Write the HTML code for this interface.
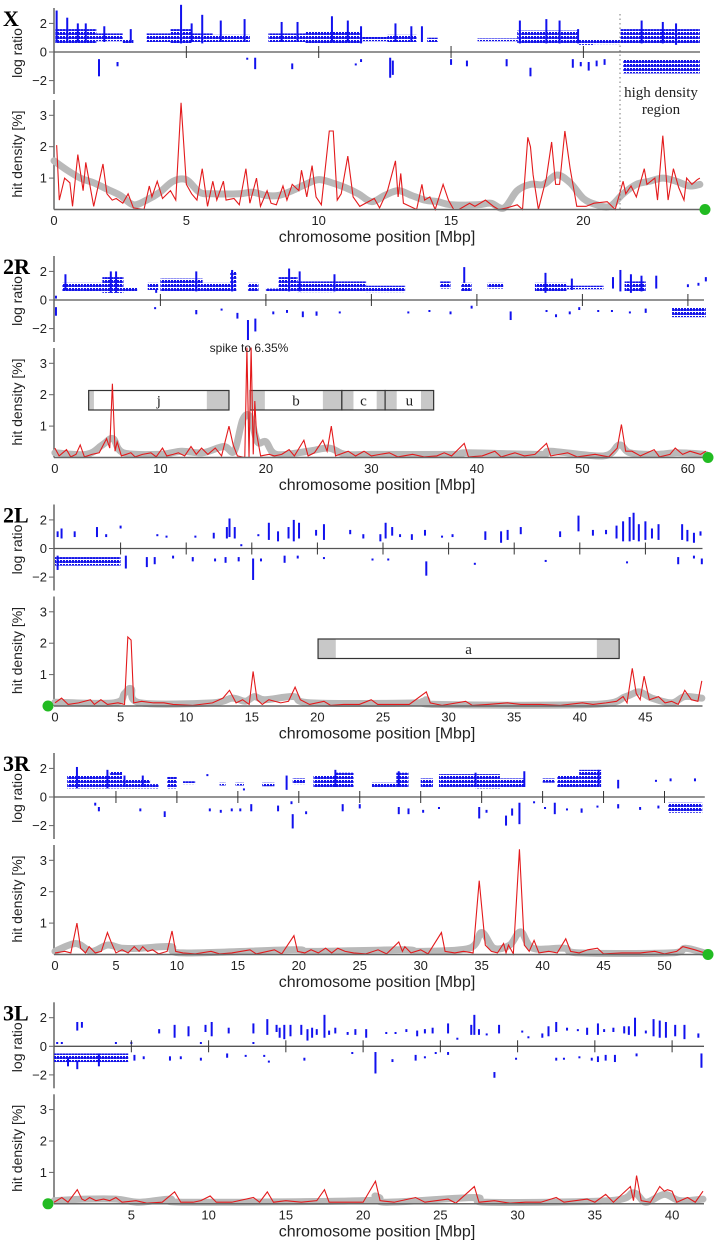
<!DOCTYPE html>
<html><head><meta charset="utf-8"><style>
html,body{margin:0;padding:0;background:#fff;}
svg{display:block;font-family:"Liberation Sans",sans-serif;}
</style></head><body>
<svg id="chart" width="714" height="1241" viewBox="0 0 714 1241" xmlns="http://www.w3.org/2000/svg">
<defs>
<pattern id="stripes" width="3" height="4" patternUnits="userSpaceOnUse">
<rect x="0" y="0" width="2" height="3" fill="#1414e8"/>
<rect x="2" y="1" width="1" height="2" fill="#4a4af0"/>
</pattern>
</defs>
</svg>
<script>
// ---------- DATA ----------
const panelNames = ["X","2R","2L","3R","3L"];
const xTicks = [0,5,10,15,20];
const r2Ticks = [0,10,20,30,40,50,60];
const l2Ticks = [0,5,10,15,20,25,30,35,40,45];
const r3Ticks = [0,5,10,15,20,25,30,35,40,45,50];
const l3Ticks = [5,10,15,20,25,30,35,40];
const logTicks = [2,0,-2];
const hitTicks = [3,2,1];

const xHitPos = [0.1,0.2,0.4,0.6,0.7,0.9,1.1,1.2,1.35,1.5,1.85,2.0,2.2,2.35,2.6,2.8,3.0,3.4,3.6,3.7,3.9,4.1,4.4,4.6,4.8,5.0,5.2,5.4,5.6,5.8,6.0,6.15,6.4,6.5,6.8,7.0,7.25,7.4,7.65,7.8,8.05,8.2,8.4,8.65,8.8,9.0,9.25,9.35,9.55,9.75,9.9,10.1,10.4,10.55,10.7,10.85,11.1,11.3,11.55,12.1,12.3,12.6,12.9,13.0,13.1,13.2,13.7,13.9,14.0,14.2,14.4,14.7,14.9,15.1,15.3,15.7,15.9,16.3,16.6,16.8,17.1,17.5,17.7,17.9,18.0,18.1,18.3,18.6,18.8,18.95,19.1,19.3,19.5,19.75,20.1,20.4,20.9,21.2,21.5,21.6,21.8,22.0,22.3,22.4,22.7,22.8,23.0,23.2,23.4,23.6,23.8,23.9,24.1,24.3,24.4];
const xHitVal = [2.05,0.3,1.0,0.85,0.1,1.75,0.6,1.5,0.8,0.1,1.45,0.5,0.3,0.35,0.2,0.5,0.05,0.0,0.75,0.4,0.9,0.35,0.6,0.3,3.4,0.8,0.5,0.3,1.3,0.1,0.9,0.3,0.9,0.3,0.35,0.15,1.3,0.2,1.0,0.1,0.6,0.2,0.15,0.75,0.3,0.8,0.6,1.25,0.4,1.4,0.4,0.15,2.5,2.5,0.3,0.5,1.7,0.4,0.1,0.35,0.05,0.6,1.55,0.4,1.15,0.2,0.0,0.8,0.3,0.4,0.0,0.8,0.3,0.0,0.0,0.2,0.1,0.3,0.1,0.0,0.05,0.15,0.0,2.3,2.0,1.1,0.0,1.0,2.15,0.8,0.8,2.5,1.3,0.1,0.1,0.2,0.25,0.0,0.9,0.5,0.75,0.4,1.3,0.8,1.0,0.3,2.35,0.3,1.3,0.7,0.3,1.0,0.8,0.95,1.0];
const xSmoothPos = [0,0.5,1,1.5,2,2.5,3,3.5,4,4.5,5,5.5,6,7,7.5,8,8.5,9,9.5,10,10.5,11,11.5,12,12.5,13,13.5,14,14.5,15,16,16.5,17,17.5,18,18.5,19,19.5,20,20.5,21,21.5,22,22.5,23,23.5,24,24.4];
const xSmoothVal = [1.55,1.25,1.0,0.85,0.65,0.45,0.15,0.3,0.55,0.9,0.95,0.55,0.5,0.5,0.55,0.45,0.45,0.6,0.8,0.95,0.85,0.7,0.5,0.25,0.45,0.6,0.45,0.3,0.25,0.15,0.15,0.2,0.05,0.6,0.8,0.8,1.1,0.85,0.35,0.15,0.1,0.5,0.8,0.9,1.0,0.9,0.75,0.8];
const xBlocks = [[0.05,1.6,0.6,1.6],[1.6,2.6,0.75,1.3],[2.6,3.0,0.6,0.9],[3.5,4.4,0.7,1.3],[4.4,5.2,0.6,1.6],[5.2,6.0,0.7,1.3],[6.0,7.4,0.7,1.2],[8.1,9.5,0.7,1.3],[9.5,11.6,0.6,1.4],[11.6,12.6,0.75,1.05],[12.6,13.7,0.7,1.2],[14.1,14.5,0.7,1.0],[16.0,17.5,0.75,0.95],[17.5,19.8,0.6,1.5],[19.8,20.4,0.5,0.9],[20.4,21.4,0.55,0.85],[21.4,24.4,0.6,1.6],[21.5,24.4,-1.5,-0.5]];
const xBars = [[0.1,0.7,2.9],[0.5,0.7,2.4],[0.9,0.7,2.0],[1.2,0.7,2.0],[1.9,0.7,1.8],[2.9,0.7,1.6],[4.8,0.6,3.3],[5.2,0.7,2.0],[5.6,0.6,2.6],[6.3,0.7,2.2],[7.2,0.7,2.3],[8.6,0.7,2.1],[9.2,0.7,2.1],[10.5,0.7,2.5],[11.1,0.7,2.2],[11.6,0.6,1.8],[12.9,0.7,2.0],[13.5,0.7,1.8],[13.9,0.7,1.8],[17.6,0.6,2.2],[18.6,0.6,2.3],[19.1,0.6,2.2],[19.8,0.6,1.6],[22.2,0.6,2.2],[23.0,0.6,2.1],[23.5,0.5,2.0],[1.7,-0.5,-1.7],[2.4,-0.7,-1.0],[7.3,-0.4,-0.5],[7.6,-0.4,-1.2],[9.0,-0.8,-1.2],[11.4,-0.8,-0.9],[11.6,-0.5,-0.7],[12.7,-0.4,-1.8],[12.8,-0.6,-1.6],[15.0,-0.5,-0.9],[15.6,-0.6,-1.0],[17.1,-0.5,-1.0],[18.0,-1.1,-1.7],[19.6,-0.5,-1.1],[19.9,-0.7,-1.0],[20.2,-0.7,-1.3],[20.5,-0.6,-1.0],[20.8,-0.5,-0.9]];

const hit2R = [[0,0.3],[0.4,0.05],[1.1,0.25],[1.5,0.02],[2.0,0.1],[2.4,0.4],[2.8,0.02],[3.5,0.1],[4.2,0.15],[4.9,0.6],[5.2,0.3],[5.45,2.35],[5.7,0.2],[5.9,0.5],[6.3,0.05],[7.2,0.15],[7.6,0.02],[8.3,0.1],[9.1,0.15],[9.6,0.02],[10.2,0.3],[10.6,0.05],[11.2,0.1],[11.7,0.15],[12.3,0.05],[12.9,0.35],[13.4,0.1],[13.9,0.3],[14.5,0.1],[15.2,0.3],[15.8,0.05],[16.5,1.0],[16.9,0.4],[17.3,0.05],[18.0,0.0],[18.2,3.5],[18.4,0.0],[18.6,3.5],[18.8,0.1],[18.95,1.8],[19.1,0.8],[19.5,0.05],[20.3,0.1],[20.8,0.05],[21.5,0.1],[22.2,0.25],[22.7,0.05],[23.6,0.55],[24.0,0.05],[24.6,0.15],[25.4,0.55],[25.8,0.2],[26.2,1.0],[26.6,0.05],[27.8,0.2],[28.5,0.05],[29.3,0.2],[30.0,0.05],[30.8,0.1],[31.7,0.15],[32.5,0.02],[33.9,0.1],[35,0.02],[36.2,0.05],[36.9,0.15],[37.6,0.05],[38.8,0.45],[39.2,0.02],[40.5,0.05],[41.7,0.2],[42.3,0.02],[43.6,0.15],[44.5,0.05],[45.5,0.1],[46.6,0.45],[47.0,0.05],[47.8,0.1],[48.6,0.15],[49.5,0.02],[51.2,0.1],[52.5,0.02],[53.3,0.3],[53.7,1.05],[54.1,0.2],[54.7,0.2],[55.5,0.05],[56.8,0.25],[57.3,0.02],[58.3,0.1],[58.8,0.3],[59.5,0.1],[60.2,0.2],[60.7,0.15],[61.2,0.1],[61.7,0.2]];
const smooth2R = [[0,0.15],[3,0.1],[4.5,0.4],[5.5,0.6],[6.5,0.15],[10,0.1],[12,0.2],[14,0.15],[16,0.35],[17,0.2],[17.8,1.2],[18.5,1.3],[19.2,0.5],[20,0.5],[21,0.1],[24,0.2],[26,0.3],[27.5,0.1],[30,0.1],[38,0.1],[39,0.15],[46,0.1],[47,0.2],[52,0.05],[53.5,0.4],[54.5,0.15],[57,0.1],[59,0.15],[61.7,0.1]];
const blocks2R = [[0.7,2.6,0.6,1.2],[2.6,4.5,0.6,1.2],[4.5,6.5,0.5,1.6],[6.5,7.8,0.6,0.9],[8.8,9.8,0.7,1.2],[10,12,0.6,1.5],[12,14,0.6,1.5],[14,16.6,0.6,1.2],[16.6,17.2,0.6,2.0],[18.3,19.3,0.6,1.2],[20,21.2,0.6,0.8],[21.2,23.0,0.6,1.6],[23,26.5,0.55,1.3],[26.5,29.5,0.6,1.3],[29.5,33.2,0.55,1.0],[36.5,37.5,0.8,1.3],[38.5,39.5,0.6,1.2],[41,42.5,0.8,1.2],[45.5,48.5,0.6,1.2],[48.5,52,0.75,1.0],[54,56,0.6,1.3],[58.5,61.7,-1.2,-0.5]];
const bars2R = [[1.0,0.7,1.8],[5.3,0.5,2.0],[5.8,0.5,2.0],[13.4,0.6,2.0],[16.8,0.6,2.1],[22.2,0.6,2.2],[23.2,0.6,2.0],[26.5,0.6,1.8],[38.8,1.2,2.3],[46.5,0.5,1.9],[49.0,0.7,1.5],[52.9,0.8,1.6],[53.6,0.6,2.1],[54.6,0.5,1.8],[55.6,0.6,1.7],[57.0,0.8,1.7],[60.0,0.9,1.1],[61.0,1.0,1.2],[61.7,1.3,1.6],[9.6,0.5,0.7],[0.1,0.1,0.3],[0.1,-0.5,-1.1],[9.5,-0.5,-0.6],[13.4,-0.7,-1.0],[15.8,-0.6,-0.7],[17.3,-0.9,-1.3],[18.3,-1.4,-2.8],[19.0,-1.3,-2.2],[20.7,-0.8,-1.0],[22,-0.7,-0.9],[23.5,-0.8,-1.2],[24.8,-0.8,-1.1],[27,-0.8,-0.9],[33.5,-0.8,-0.9],[35.5,-0.7,-0.8],[37.5,-0.8,-1.0],[39.5,-0.4,-0.6],[43.2,-0.8,-1.4],[46.6,-0.7,-0.8],[47.5,-1.0,-1.2],[48.8,-0.8,-1.0],[49.7,-0.5,-0.7],[51.5,-0.7,-0.8],[52.8,-0.7,-0.8],[54.5,-0.8,-0.9],[56,-0.6,-0.9]];

const hit2L = [[0,0.1],[0.5,0.25],[1,0.05],[1.8,0.1],[2.7,0.2],[3.0,0.05],[3.5,0.2],[4.0,0.05],[4.8,0.1],[5.3,0.05],[5.55,2.2],[5.8,2.1],[6.0,0.1],[6.6,0.15],[7.5,0.1],[8.3,0.1],[9,0.05],[10.5,0.02],[12,0.1],[12.8,0.25],[13.3,0.5],[13.8,0.1],[14.3,0.2],[14.8,0.05],[15.1,1.1],[15.4,0.2],[15.8,0.05],[16.3,0.2],[17.2,0.1],[17.8,0.15],[18.3,0.6],[18.7,0.2],[19.4,0.05],[20.5,0.15],[21,0.02],[22,0.05],[23.2,0.05],[24.1,0.2],[24.6,0.05],[26,0.05],[27,0.05],[28.3,0.45],[28.6,0.1],[29.5,0.02],[31.3,0.15],[31.8,0.02],[33,0.05],[34.5,0.1],[35.5,0.05],[37,0.05],[38.5,0.02],[40.2,0.1],[41,0.05],[42,0.1],[42.8,0.15],[43.3,0.3],[43.6,0.1],[44.0,1.2],[44.3,0.4],[44.6,0.2],[44.9,0.95],[45.3,0.2],[46,0.3],[46.5,0.1],[47,0.15],[47.5,0.05],[48,0.5],[48.5,0.2],[49.0,0.15],[49.3,0.8]];
const smooth2L = [[0,0.12],[4.5,0.1],[5.3,0.4],[5.8,0.55],[6.5,0.1],[12,0.1],[13.5,0.25],[14.5,0.15],[15.2,0.3],[16,0.2],[18.2,0.3],[19.5,0.1],[27.5,0.1],[28.3,0.2],[29,0.05],[41,0.05],[43.5,0.3],[44.5,0.45],[45.5,0.25],[47,0.1],[48,0.3],[49.3,0.25]];
const blocks2L = [[0,5.0,-1.2,-0.6]];
const bars2L = [[0.2,0.8,1.2],[0.5,0.7,1.4],[1.5,0.8,1.2],[3.2,0.8,1.5],[3.9,0.8,1.0],[5.0,1.4,1.6],[7.8,0.9,1.0],[8.5,0.8,0.9],[10.7,0.8,0.9],[12.1,0.7,1.1],[13.1,0.7,1.5],[13.3,0.8,2.1],[13.7,0.7,1.5],[14.2,0.2,0.3],[15.5,0.9,1.0],[16.3,0.6,1.8],[17.0,0.5,1.2],[17.8,0.7,1.5],[18.2,0.5,2.0],[18.6,0.7,1.8],[19.9,0.9,1.3],[20.5,0.6,1.7],[22.5,1.0,1.3],[23.5,0.7,1.0],[24.8,0.5,1.0],[25.2,0.7,1.8],[25.7,0.9,1.5],[26.3,0.8,1.0],[27.2,0.6,1.0],[28.2,0.9,1.3],[29.5,0.8,0.9],[30.3,0.8,1.0],[32.8,0.6,1.2],[34.0,0.4,1.2],[34.5,0.6,1.3],[35.5,1.0,1.5],[38.5,0.8,1.2],[39.9,1.2,2.3],[41.0,0.9,1.3],[42.0,1.0,1.3],[42.8,0.7,1.6],[43.3,0.5,1.9],[43.8,0.5,2.2],[44.1,0.6,2.5],[44.5,0.5,1.7],[45.0,0.6,1.9],[45.5,0.7,1.4],[46.0,0.6,1.7],[47.8,0.6,1.7],[48.2,0.5,1.3],[48.7,0.4,1.1],[49.2,0.9,1.2],[0.2,-0.5,-1.5],[5.4,-0.5,-1.4],[7,-0.6,-1.3],[7.6,-0.6,-1.1],[9.0,-0.5,-0.7],[10.5,-0.6,-0.9],[12.2,-0.7,-0.9],[13.0,-0.6,-1.0],[14.0,-0.6,-0.9],[15.1,-0.7,-2.2],[15.7,-0.7,-0.9],[17.5,-0.5,-1.0],[18.5,-0.5,-0.7],[20.5,-0.6,-0.7],[24.2,-0.7,-0.8],[25.4,-0.7,-0.8],[28.3,-0.9,-1.9],[32.0,-1.0,-1.1],[37.4,-0.8,-0.9],[43.6,-0.9,-1.0],[47.5,-0.6,-1.1],[48.7,-0.5,-0.7],[49.3,-0.7,-1.1]];

const hit3R = [[0,0.05],[0.8,0.1],[1.3,0.05],[1.8,1.0],[2.1,0.2],[2.5,0.05],[2.8,0.25],[3.3,0.05],[3.8,0.1],[4.3,0.7],[4.6,0.4],[5.0,0.05],[5.5,0.15],[6.0,0.05],[6.5,0.25],[6.9,0.1],[7.2,0.25],[7.6,0.1],[8.0,0.15],[8.5,0.02],[9.2,0.1],[9.6,0.75],[9.9,0.1],[10.5,0.05],[11.5,0.02],[12.8,0.1],[13.5,0.02],[14.5,0.05],[16,0.15],[16.5,0.02],[18,0.15],[18.6,0.02],[19.6,0.6],[19.9,0.1],[20.5,0.05],[21,0.15],[21.6,0.05],[22.2,0.2],[22.7,0.05],[23.2,0.2],[23.8,0.1],[24.5,0.05],[25.5,0.02],[26.5,0.15],[27.2,0.02],[28.2,0.4],[28.5,0.1],[28.7,0.25],[29.2,0.05],[30,0.15],[30.6,0.02],[31.7,0.7],[32,0.1],[32.8,0.05],[33.5,0.1],[34.3,0.05],[34.8,2.35],[35.3,0.3],[35.8,0.1],[36.3,0.05],[36.8,0.35],[37.0,0.05],[37.2,0.3],[37.6,0.02],[38.1,3.35],[38.5,0.3],[38.9,0.1],[39.3,0.45],[39.7,0.05],[40.5,0.1],[41.2,0.05],[41.9,0.5],[42.3,0.1],[43,0.05],[43.7,0.15],[44.5,0.2],[45,0.02],[46.5,0.05],[48,0.05],[49.2,0.1],[50,0.02],[51,0.1],[51.5,0.25],[52,0.2],[52.5,0.15],[53.3,0.05]];
const smooth3R = [[0,0.1],[1.7,0.35],[3,0.1],[4.3,0.3],[5.5,0.2],[7,0.2],[9.5,0.25],[10.5,0.05],[19.5,0.15],[21,0.1],[28.5,0.15],[30,0.1],[34,0.2],[35,0.7],[36,0.2],[37.3,0.3],[38.2,0.72],[39.2,0.2],[41.8,0.2],[43,0.05],[50.5,0.05],[51.7,0.2],[53.3,0.05]];
const blocks3R = [[1.0,4.6,0.6,1.5],[4.5,5.5,0.6,1.8],[5.5,7.8,0.6,1.2],[7.8,8.5,0.6,0.9],[9.2,10.0,0.6,1.4],[10.5,11.5,0.9,1.1],[13.5,14.0,0.8,1.0],[14.8,15.5,0.8,1.0],[17.0,18.0,0.75,1.0],[19.5,20.5,0.9,1.3],[21.2,23.0,0.7,1.5],[23,24.5,0.7,1.7],[26.0,28.0,0.7,1.0],[28.0,29.0,0.7,1.7],[30.0,31.0,0.7,1.3],[31.5,34.5,0.7,1.6],[34.5,36.5,0.6,1.6],[36.5,38.5,0.7,1.3],[40,41,1.0,1.3],[41.2,43.0,0.7,1.5],[43,44.8,0.7,1.9],[50.3,53.1,-1.1,-0.4]];
const bars3R = [[1.8,0.6,2.1],[4.3,0.6,1.9],[5.7,0.7,1.5],[7.2,0.7,1.5],[19.0,0.5,1.5],[23.0,0.7,1.9],[28.2,0.7,1.8],[34.5,0.7,1.7],[38.5,0.7,1.8],[44.6,0.8,1.9],[46.2,0.6,1.2],[49.3,1.1,1.2],[50.5,1.1,1.3],[52.5,1.1,1.3],[15.5,0.5,0.6],[12.5,1.5,1.6],[3.3,-0.4,-0.6],[3.6,-0.7,-1.0],[7.0,-0.8,-1.0],[9.0,-1.0,-1.4],[12.7,-0.8,-1.0],[13.6,-0.9,-1.1],[14.5,-0.8,-1.0],[15.2,-0.8,-1.0],[16.1,-0.5,-1.0],[18.3,-0.6,-1.0],[19.5,-1.2,-2.2],[19.4,-0.3,-0.5],[20.6,-1.0,-1.2],[23.6,-0.5,-1.0],[25.0,-0.5,-0.8],[28.2,-0.7,-1.2],[29.0,-0.8,-1.2],[30.2,-0.9,-1.1],[31.5,-0.7,-0.8],[34.8,-0.7,-1.5],[35.4,-0.9,-1.1],[37.0,-1.3,-2.0],[37.5,-0.8,-1.3],[38.1,-0.4,-1.9],[39.3,-0.3,-0.4],[40.2,-0.7,-0.8],[41.0,-0.4,-1.2],[42.0,-0.8,-0.9],[43.2,-0.8,-1.1],[44.5,-0.6,-0.7],[46.2,-0.5,-0.8],[48.0,-0.7,-0.9],[49.5,-0.6,-0.8]];

const hit3L = [[0,0.05],[0.5,0.2],[0.9,0.05],[1.5,0.45],[1.8,0.15],[2,0.1],[2.3,0.2],[2.7,0.1],[3.2,0.15],[3.6,0.1],[4,0.2],[4.4,0.05],[5.3,0.1],[6,0.02],[7,0.05],[7.8,0.38],[8.2,0.05],[9,0.05],[9.5,0.1],[10.1,0.25],[10.5,0.05],[11.5,0.05],[12.9,0.2],[13.3,0.05],[13.8,0.38],[14.2,0.05],[15,0.1],[16,0.05],[17,0.1],[17.5,0.45],[17.8,0.05],[19,0.05],[20,0.05],[20.8,0.72],[21.1,0.1],[22,0.05],[23.4,0.2],[24,0.05],[25.5,0.15],[26,0.02],[27.2,0.55],[27.5,0.05],[28.5,0.1],[29.5,0.02],[30.5,0.05],[31.5,0.05],[32.5,0.2],[33,0.05],[34.5,0.15],[35,0.05],[35.7,0.3],[36.2,0.05],[37.3,0.55],[37.5,0.1],[37.7,0.9],[38,0.1],[38.6,0.05],[39.2,0.55],[39.5,0.4],[39.7,0.45],[40,0.4],[40.3,0.05],[41,0.2],[41.5,0.05],[42,0.4]];
const smooth3L = [[0,0.1],[2,0.15],[4,0.15],[5.5,0.05],[7.5,0.15],[8.5,0.05],[20,0.1],[20.8,0.25],[21.5,0.05],[27.2,0.2],[28,0.05],[36,0.1],[37.5,0.35],[38.3,0.05],[39.5,0.3],[40.5,0.1],[42,0.15]];
const blocks3L = [[0,4.8,-1.1,-0.5]];
const bars3L = [[0.2,0.2,0.3],[0.5,0.2,0.3],[1.5,1.1,1.7],[1.8,1.3,1.7],[4.0,0.2,0.3],[5.0,0.2,0.3],[6.8,0.9,1.2],[7.8,0.6,1.5],[8.7,0.7,1.4],[9.5,0.2,0.3],[9.8,1.0,1.5],[10.2,0.7,1.7],[11.3,0.9,1.3],[12.9,0.2,0.3],[12.9,0.9,1.6],[13.8,0.8,1.9],[14.4,1.0,1.5],[14.6,0.6,1.3],[14.9,0.5,1.5],[15.3,0.7,1.5],[16,0.8,1.5],[16.4,0.4,1.2],[16.7,0.6,1.3],[17.0,0.8,1.2],[17.5,0.6,2.2],[17.8,0.8,1.1],[18.2,0.9,1.3],[19.0,0.8,1.0],[19.5,0.8,1.2],[20.2,0.6,1.2],[21.5,0.9,1.0],[22.1,0.9,1.0],[22.8,1.0,1.2],[23.5,0.7,1.1],[24.0,0.9,1.2],[24.5,0.9,1.3],[25.5,0.9,1.6],[26.1,0.5,0.6],[27.0,0.8,1.5],[27.2,0.8,2.2],[27.5,0.8,1.2],[28.0,0.8,0.9],[28.8,0.9,1.5],[30.3,1.0,1.1],[30.7,0.6,0.7],[31.6,0.6,0.9],[32.0,0.7,1.4],[32.5,1.0,1.7],[33.2,1.1,1.3],[33.9,1.1,1.2],[34.5,0.8,1.3],[35.2,0.8,1.6],[35.6,1.0,1.2],[36.2,1.0,1.3],[36.9,0.9,1.4],[37.2,0.8,1.4],[37.6,0.7,2.0],[38.3,0.9,1.1],[38.8,0.7,1.9],[39.2,0.6,1.8],[39.6,0.6,1.7],[40.2,0.7,1.5],[40.8,0.5,1.5],[41.7,0.6,0.9],[0.9,-0.8,-1.4],[2.9,-0.5,-1.4],[1.5,-1.0,-1.6],[5.2,-0.6,-1.0],[5.8,-0.7,-0.9],[7.5,-0.7,-1.0],[8.2,-0.7,-0.9],[9.5,-0.8,-1.0],[11.2,-0.5,-0.8],[12.4,-0.6,-0.7],[13.6,-0.6,-0.7],[13.9,-1.0,-1.1],[16.2,-0.8,-1.0],[19.3,-0.4,-0.5],[20.8,-0.4,-1.9],[21.9,-0.9,-1.1],[23.4,-0.6,-1.0],[24.0,-0.7,-0.8],[24.7,-0.4,-0.5],[25.5,-0.4,-0.6],[28.5,-1.8,-2.2],[29.9,-0.8,-0.9],[32.5,-0.8,-1.0],[33.0,-0.8,-0.9],[34.0,-0.7,-0.8],[34.8,-0.8,-1.0],[35.2,-0.7,-1.1],[35.7,-0.6,-1.0],[36.3,-0.6,-1.1],[37.7,-0.5,-0.7],[41.9,-0.5,-1.5]];

// inversion boxes: [label, start, end, grayLeftEnd, grayRightStart]
const boxes2R = [["j",3.2,16.5,3.7,14.4],["b",18.5,27.2,19.9,25.4],["c",27.2,31.3,28.3,30.5],["u",31.3,35.9,32.4,34.7]];
const boxes2L = [["a",20.05,43.0,21.4,41.3]];

// ---------- RENDER ----------
const NS = "http://www.w3.org/2000/svg";
const svg = document.getElementById("chart");
function mk(tag, attrs, parent){
  const el = document.createElementNS(NS, tag);
  for (const k in attrs) el.setAttribute(k, attrs[k]);
  (parent||svg).appendChild(el);
  return el;
}
const offsets = [0,248,496.5,745,994.3];
const xStart = [54,54.9,55,55,54.1];
const pxPer = [26.47,10.55,13.12,12.19,15.45];
const axisEnd = [700,704,702.5,704.8,704];
const dotX = [705,708,48,708,48];

const panelData = [
  {ticks:xTicks, hit:xHitPos.map((p,i)=>[p,xHitVal[i]]), smooth:xSmoothPos.map((p,i)=>[p,xSmoothVal[i]]), blocks:xBlocks, bars:xBars, boxes:[]},
  {ticks:r2Ticks, hit:hit2R, smooth:smooth2R, blocks:blocks2R, bars:bars2R, boxes:boxes2R},
  {ticks:l2Ticks, hit:hit2L, smooth:smooth2L, blocks:blocks2L, bars:bars2L, boxes:boxes2L},
  {ticks:r3Ticks, hit:hit3R, smooth:smooth3R, blocks:blocks3R, bars:bars3R, boxes:[]},
  {ticks:l3Ticks, hit:hit3L, smooth:smooth3L, blocks:blocks3L, bars:bars3L, boxes:[]}
];

function smoothPath(pts){
  let d = "M" + pts[0][0] + "," + pts[0][1];
  for (let i=0;i<pts.length-1;i++){
    const p0 = pts[Math.max(0,i-1)], p1 = pts[i], p2 = pts[i+1], p3 = pts[Math.min(pts.length-1,i+2)];
    const c1x = p1[0]+(p2[0]-p0[0])/6, c1y = p1[1]+(p2[1]-p0[1])/6;
    const c2x = p2[0]-(p3[0]-p1[0])/6, c2y = p2[1]-(p3[1]-p1[1])/6;
    d += " C"+c1x+","+c1y+" "+c2x+","+c2y+" "+p2[0]+","+p2[1];
  }
  return d;
}

panelData.forEach((pd, k) => {
  const off = offsets[k];
  const X = v => xStart[k] + pxPer[k]*v;
  const yL = v => off + 52 - 14.3*v;
  const yH = v => off + 209.5 - 31.4*Math.min(v,3.52);
  const g = mk("g", {});
  
  

  const title = mk("text", {x:3, y:off+26, "font-family":"Liberation Serif, serif", "font-weight":"bold", "font-size":"22"}, g);
  title.textContent = panelNames[k];
  
  

  const lt = mk("text", {transform:"translate(22,"+(off+53)+") rotate(-90)", "text-anchor":"middle", "font-size":"14", fill:"#222"}, g);
  lt.textContent = "log ratio";
  
  
  const ht = mk("text", {transform:"translate(22,"+(off+154)+") rotate(-90)", "text-anchor":"middle", "font-size":"14", fill:"#222"}, g);
  ht.textContent = "hit density [%]";
  
  

  const la = mk("line", {x1:54, x2:54, y1:off+8, y2:off+94, stroke:"#666", "stroke-width":1.5}, g);
  
  
  const ha = mk("line", {x1:54, x2:54, y1:off+100, y2:off+209.5, stroke:"#666", "stroke-width":1.5}, g);
  
  
  logTicks.forEach(t => {
    mk("line", {x1:49, x2:54, y1:yL(t), y2:yL(t), stroke:"#666", "stroke-width":1}, g);
    const tx = mk("text", {x:47, y:yL(t)+4.5, "text-anchor":"end", "font-size":"13", fill:"#222"}, g);
    tx.textContent = t < 0 ? "\u2212" + Math.abs(t) : String(t);
    
    
  });
  hitTicks.forEach(t => {
    mk("line", {x1:49, x2:54, y1:yH(t), y2:yH(t), stroke:"#666", "stroke-width":1}, g);
    const tx = mk("text", {x:47, y:yH(t)+4.5, "text-anchor":"end", "font-size":"13", fill:"#222"}, g);
    tx.textContent = String(t);
    
    
  });

  pd.blocks.forEach(b => {
    const r = mk("rect", {x:X(b[0]), y:yL(Math.max(b[2],b[3])), width:X(b[1])-X(b[0]), height:Math.abs(b[3]-b[2])*14.3, fill:"url(#stripes)"}, g);
    
    
  });
  pd.bars.forEach(b => {
    const r = mk("rect", {x:X(b[0])-1, y:yL(Math.max(b[1],b[2])), width:2, height:Math.max(2,Math.abs(b[2]-b[1])*14.3), fill:"#1111ee"}, g);
    
    
  });

  const zl = mk("line", {x1:54, x2:axisEnd[k], y1:yL(0), y2:yL(0), stroke:"#555", "stroke-width":1.3}, g);
  
  
  pd.ticks.forEach(t => {
    if (t === 0) return;
    const tk = mk("line", {x1:X(t), x2:X(t), y1:yL(0)-6, y2:yL(0)+6, stroke:"#333", "stroke-width":1}, g);
    
    
  });

  const sp = mk("path", {d:smoothPath(pd.smooth.map(p=>[X(p[0]),yH(p[1])])), fill:"none", stroke:"#b9b9b9", "stroke-width":7, "stroke-linejoin":"round", "stroke-linecap":"round"}, g);
  
  

  pd.boxes.forEach(b => {
    const y1 = off+142.5, h = 19.5;
    const bg = mk("g", {}, g);
    
    
    mk("rect", {x:X(b[1]), y:y1, width:X(b[2])-X(b[1]), height:h, fill:"#fff"}, bg);
    mk("rect", {x:X(b[1]), y:y1, width:X(b[3])-X(b[1]), height:h, fill:"#c8c8c8"}, bg);
    mk("rect", {x:X(b[4]), y:y1, width:X(b[2])-X(b[4]), height:h, fill:"#c8c8c8"}, bg);
    mk("rect", {x:X(b[1]), y:y1, width:X(b[2])-X(b[1]), height:h, fill:"none", stroke:"#333", "stroke-width":1.2}, bg);
    const lb = mk("text", {x:(X(b[1])+X(b[2]))/2, y:y1+15, "text-anchor":"middle", "font-family":"Liberation Serif, serif", "font-size":"15", fill:"#222"}, bg);
    lb.textContent = b[0];
    
    
  });

  const rl = mk("polyline", {points:pd.hit.map(p=>X(p[0])+","+yH(p[1])).join(" "), fill:"none", stroke:"#e31a1c", "stroke-width":1.1}, g);
  
  

  const ba = mk("line", {x1:54, x2:axisEnd[k], y1:off+209.5, y2:off+209.5, stroke:"#666", "stroke-width":1.5}, g);
  
  
  pd.ticks.forEach(t => {
    const tx = mk("text", {x:X(t), y:off+225, "text-anchor":"middle", "font-size":"13", fill:"#222"}, g);
    tx.textContent = String(t);
    
    
  });
  const xt = mk("text", {x:377, y:off+242, "text-anchor":"middle", "font-size":"16", fill:"#222"}, g);
  xt.textContent = "chromosome position [Mbp]";
  
  

  const dot = mk("circle", {cx:dotX[k], cy:off+209.5, r:5.5, fill:"#22bb22"}, g);
  
  
});

const dl = mk("line", {x1:620, x2:620, y1:14, y2:209, stroke:"#777", "stroke-width":1, "stroke-dasharray":"1.5,3"});


const hd1 = mk("text", {x:661, y:97, "text-anchor":"middle", "font-family":"Liberation Serif, serif", "font-size":"15", fill:"#222"});
hd1.textContent = "high density";


const hd2 = mk("text", {x:661, y:114, "text-anchor":"middle", "font-family":"Liberation Serif, serif", "font-size":"15", fill:"#222"});
hd2.textContent = "region";


const sk = mk("text", {x:249, y:352, "text-anchor":"middle", "font-size":"12", fill:"#222"});
sk.textContent = "spike to 6.35%";


</script>
</body></html>
